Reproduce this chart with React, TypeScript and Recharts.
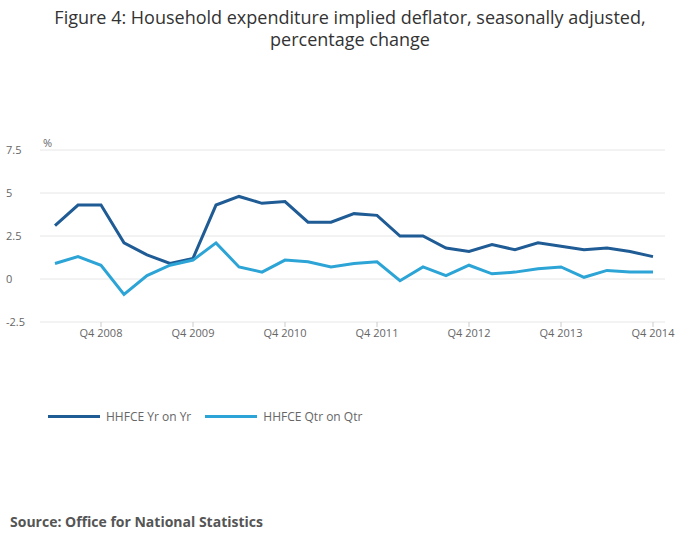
import React from 'react';
import { LineChart, Line, XAxis, YAxis, CartesianGrid } from 'recharts';

const quarters = [
  'Q2 2008', 'Q3 2008', 'Q4 2008', 'Q1 2009', 'Q2 2009', 'Q3 2009', 'Q4 2009',
  'Q1 2010', 'Q2 2010', 'Q3 2010', 'Q4 2010', 'Q1 2011', 'Q2 2011', 'Q3 2011', 'Q4 2011',
  'Q1 2012', 'Q2 2012', 'Q3 2012', 'Q4 2012', 'Q1 2013', 'Q2 2013', 'Q3 2013', 'Q4 2013',
  'Q1 2014', 'Q2 2014', 'Q3 2014', 'Q4 2014',
];
const yrOnYr = [3.1, 4.3, 4.3, 2.1, 1.4, 0.9, 1.2, 4.3, 4.8, 4.4, 4.5, 3.3, 3.3, 3.8, 3.7, 2.5, 2.5, 1.8, 1.6, 2.0, 1.7, 2.1, 1.9, 1.7, 1.8, 1.6, 1.3];
const qtrOnQtr = [0.9, 1.3, 0.8, -0.9, 0.2, 0.8, 1.1, 2.1, 0.7, 0.4, 1.1, 1.0, 0.7, 0.9, 1.0, -0.1, 0.7, 0.2, 0.8, 0.3, 0.4, 0.6, 0.7, 0.1, 0.5, 0.4, 0.4];
const xTicks = ['Q4 2008', 'Q4 2009', 'Q4 2010', 'Q4 2011', 'Q4 2012', 'Q4 2013', 'Q4 2014'];
const yTicks = [-2.5, 0, 2.5, 5, 7.5];
const series = [
  { key: 'yr', name: 'HHFCE Yr on Yr', color: '#1f5b94' },
  { key: 'qtr', name: 'HHFCE Qtr on Qtr', color: '#2ca4d6' },
];

const data = quarters.map((q, i) => ({ q, yr: yrOnYr[i], qtr: qtrOnQtr[i] }));
const font = '"Open Sans", sans-serif';

export default function App() {
  return (
    <div style={{ position: 'absolute', left: 0, top: 0, width: 700, height: 549, background: '#fff', fontFamily: font }}>
      <div style={{ position: 'absolute', top: 6, left: 0, width: 700, textAlign: 'center', fontSize: 18, color: '#333', lineHeight: '22px' }}>
        Figure 4: Household expenditure implied deflator, seasonally adjusted,<br />percentage change
      </div>
      <div style={{ position: 'absolute', top: 135, left: 43, fontSize: 11, color: '#666' }}>%</div>
      <LineChart width={700} height={549} data={data} margin={{ top: 150, right: 35, bottom: 197, left: 0 }}>
        <CartesianGrid vertical={false} stroke="#e6e6e6" />
        <XAxis
          dataKey="q"
          ticks={xTicks}
          interval={0}
          padding={{ left: 15, right: 12 }}
          axisLine={false}
          tickLine={{ stroke: '#ccc' }}
          tickSize={5}
          tick={{ fontSize: 11, fill: '#666', fontFamily: font }}
        />
        <YAxis
          domain={[-2.5, 7.5]}
          ticks={yTicks}
          width={40}
          axisLine={false}
          tickLine={false}
          tick={{ fontSize: 11, fill: '#666', fontFamily: font, textAnchor: 'start', dx: -26 }}
        />
        {series.map((s) => (
          <Line key={s.key} name={s.name} dataKey={s.key} stroke={s.color} strokeWidth={3} dot={false} isAnimationActive={false} />
        ))}
      </LineChart>
      <div style={{ position: 'absolute', top: 408, left: 48, display: 'flex', fontSize: 12, color: '#666' }}>
        {series.map((s) => (
          <div key={s.key} style={{ display: 'flex', alignItems: 'center', marginRight: 14 }}>
            <span style={{ display: 'inline-block', width: 52, height: 3, background: s.color, marginRight: 6 }} />
            {s.name}
          </div>
        ))}
      </div>
      <div style={{ position: 'absolute', top: 512, left: 10, fontSize: 14, fontWeight: 'bold', color: '#555' }}>
        Source: Office for National Statistics
      </div>
    </div>
  );
}
